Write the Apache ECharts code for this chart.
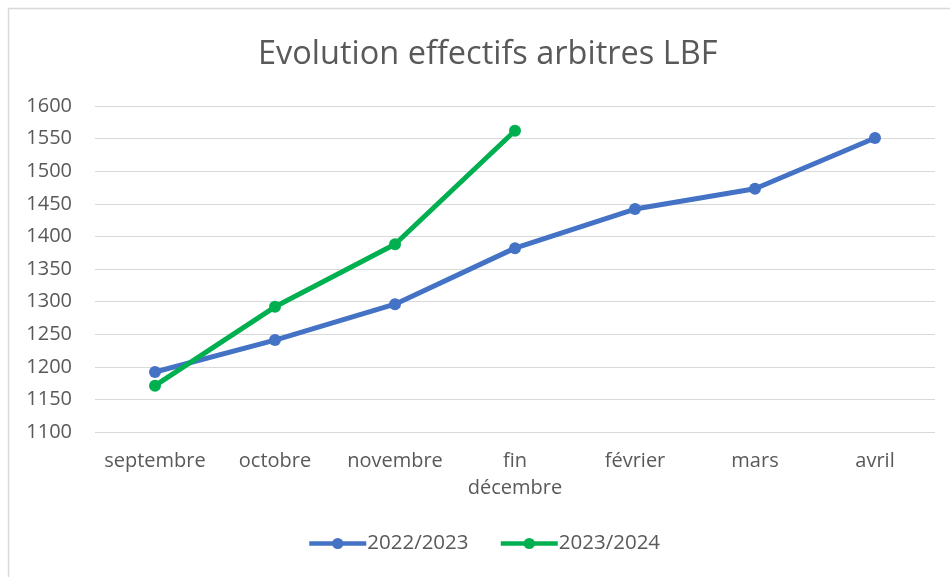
<!DOCTYPE html>
<html><head><meta charset="utf-8">
<script src="https://cdn.jsdelivr.net/npm/echarts@6/dist/echarts.min.js"></script>
<style>html,body{margin:0;padding:0;background:#fff}#c{width:950px;height:577px}</style>
</head><body><div id="c"></div>
<script>
const categories = ['septembre', 'octobre', 'novembre', 'fin\ndécembre', 'février', 'mars', 'avril'];
const series2223 = [1192, 1241, 1296, 1382, 1442, 1473, 1551];
const series2324 = [1171, 1292, 1388, 1562];
const yTicks = [1100, 1150, 1200, 1250, 1300, 1350, 1400, 1450, 1500, 1550, 1600];

const FONT = '"Open Sans", "Noto Sans", sans-serif';
const chart = echarts.init(document.getElementById('c'), null, {renderer: 'canvas'});
chart.setOption({
  animation: false,
  backgroundColor: '#fff',
  title: {
    text: 'Evolution effectifs arbitres LBF',
    left: 253, top: 33,
    textStyle: {fontFamily: FONT, fontSize: 32.5, fontWeight: 'normal', color: '#595959'}
  },
  graphic: [{
    type: 'rect', shape: {x: 8.5, y: 8.5, width: 1000, height: 1000},
    style: {fill: null, stroke: '#d9d9d9', lineWidth: 1.5}, silent: true
  }],
  legend: {
    top: 528, left: 302, itemWidth: 57, itemHeight: 14, itemGap: 30,
    lineStyle: {width: 4.5},
    textStyle: {fontFamily: FONT, fontSize: 20.5, color: '#595959', padding: [0, 0, 0, -4]},
    data: ['2022/2023', '2023/2024']
  },
  grid: {left: 95, right: 15, top: 106, bottom: 145, containLabel: false},
  xAxis: {
    type: 'category', data: categories, boundaryGap: true,
    axisLine: {show: false}, axisTick: {show: false},
    axisLabel: {fontFamily: FONT, fontSize: 20, color: '#595959', margin: 16, lineHeight: 27, interval: 0}
  },
  yAxis: {
    type: 'value', min: yTicks[0], max: yTicks[yTicks.length - 1], interval: 50,
    axisLine: {show: false}, axisTick: {show: false},
    splitLine: {lineStyle: {color: '#d9d9d9', width: 1}},
    axisLabel: {fontFamily: FONT, fontSize: 20, color: '#595959', margin: 23, align: 'right',
      formatter: v => String(v)}
  },
  series: [
    {name: '2022/2023', type: 'line', data: series2223, color: '#4472c4',
     symbol: 'circle', symbolSize: 12, lineStyle: {width: 5, color: '#4472c4'},
     itemStyle: {color: '#4472c4'}},
    {name: '2023/2024', type: 'line', data: series2324, color: '#00b050',
     symbol: 'circle', symbolSize: 12, lineStyle: {width: 5, color: '#00b050'},
     itemStyle: {color: '#00b050'}}
  ]
});
</script></body></html>
